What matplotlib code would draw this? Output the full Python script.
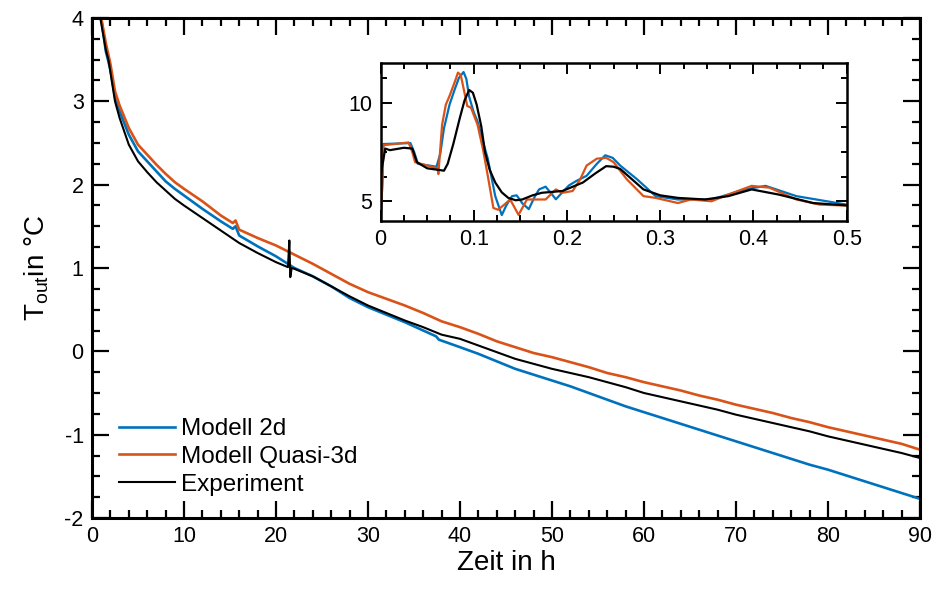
import matplotlib
matplotlib.use("Agg")
import matplotlib.pyplot as plt
from matplotlib.ticker import MultipleLocator

plt.rcParams['font.family'] = ['Liberation Sans', 'DejaVu Sans']
plt.rcParams['mathtext.fontset'] = 'custom'
plt.rcParams['mathtext.rm'] = 'Liberation Sans'
plt.rcParams['mathtext.it'] = 'Liberation Sans'
plt.rcParams['axes.unicode_minus'] = False

# ---------------- main data ----------------
t_2d = [1.0, 1.5, 2, 2.5, 3, 4, 5, 6, 7, 8, 9, 10, 12, 14, 15.3, 15.6, 16, 18, 20, 22, 24, 26, 28,
        30, 32, 34, 36, 37.4, 37.7, 40, 42, 44, 46, 48, 50, 52, 54, 56, 58, 60, 62, 64, 66, 68,
        70, 72, 74, 76, 78, 80, 82, 84, 86, 88, 90]
y_2d = [4.0, 3.6, 3.38, 3.05, 2.88, 2.60, 2.40, 2.28, 2.16, 2.04, 1.95, 1.87, 1.71, 1.56, 1.47, 1.50, 1.39,
        1.26, 1.14, 1.00, 0.90, 0.78, 0.64, 0.53, 0.44, 0.35, 0.25, 0.18, 0.14, 0.05, -0.03, -0.12,
        -0.21, -0.28, -0.35, -0.42, -0.50, -0.58, -0.66, -0.73, -0.80, -0.87, -0.94, -1.01, -1.08,
        -1.15, -1.22, -1.29, -1.36, -1.42, -1.49, -1.56, -1.63, -1.70, -1.77]

t_q3d = [1.0, 1.5, 2, 2.5, 3, 4, 5, 6, 7, 8, 9, 10, 12, 14, 15.3, 15.6, 16, 18, 20, 22, 24, 26, 28,
         30, 32, 34, 36, 38, 40, 42, 44, 46, 48, 50, 52, 54, 56, 58, 60, 62, 64, 66, 68, 70, 72, 74,
         76, 78, 80, 82, 84, 86, 88, 90]
y_q3d = [4.0, 3.7, 3.45, 3.12, 2.95, 2.68, 2.48, 2.36, 2.24, 2.13, 2.03, 1.95, 1.80, 1.63, 1.54, 1.57,
         1.46, 1.36, 1.27, 1.16, 1.05, 0.93, 0.81, 0.71, 0.63, 0.55, 0.46, 0.36, 0.29, 0.21, 0.12, 0.05,
         -0.02, -0.07, -0.13, -0.19, -0.26, -0.31, -0.37, -0.42, -0.47, -0.53, -0.58, -0.64, -0.69,
         -0.74, -0.80, -0.85, -0.91, -0.96, -1.01, -1.06, -1.11, -1.18]

t_exp = [0.9, 1.5, 1.8, 2, 2.5, 3, 4, 5, 6, 7, 8, 9, 10, 12, 14, 16, 18, 20, 21.3, 21.45, 21.55,
         21.7, 22, 24, 26, 28, 30, 32, 34, 36, 38, 40, 42, 44, 46, 48, 50, 52, 54, 56, 58, 60, 62,
         64, 66, 68, 70, 72, 74, 76, 78, 80, 82, 84, 86, 88, 90]
y_exp = [4.0, 3.62, 3.49, 3.35, 3.0, 2.80, 2.48, 2.28, 2.15, 2.03, 1.93, 1.83, 1.75, 1.60, 1.45, 1.30,
         1.18, 1.07, 1.01, 1.33, 0.89, 1.00, 0.99, 0.90, 0.78, 0.66, 0.55, 0.46, 0.37, 0.29, 0.20,
         0.15, 0.07, -0.01, -0.09, -0.15, -0.21, -0.26, -0.31, -0.37, -0.43, -0.50, -0.55, -0.60,
         -0.65, -0.70, -0.76, -0.81, -0.86, -0.91, -0.96, -1.02, -1.07, -1.12, -1.17, -1.22, -1.28]

# ---------------- inset data ----------------
ti_2d = [0.0, 0.002, 0.003, 0.032, 0.036, 0.040, 0.060, 0.064, 0.068, 0.074, 0.079, 0.084, 0.089,
         0.092, 0.095, 0.100, 0.104, 0.110, 0.115, 0.123, 0.130, 0.135, 0.141, 0.146, 0.152, 0.159,
         0.165, 0.170, 0.177, 0.183, 0.188, 0.195, 0.202, 0.210, 0.221, 0.232, 0.241, 0.249, 0.257,
         0.275, 0.295, 0.319, 0.355, 0.391, 0.413, 0.446, 0.5]
yi_2d = [4.0, 6.0, 7.9, 7.95, 7.5, 6.9, 6.75, 7.4, 8.7, 9.9, 10.6, 11.25, 11.55, 11.2, 10.3, 9.5, 9.05,
         8.0, 7.16, 5.26, 4.3, 4.8, 5.26, 5.3, 4.9, 4.6, 5.2, 5.6, 5.74, 5.4, 5.1, 5.45, 5.8, 6.03,
         6.29, 6.9, 7.33, 7.2, 6.81, 6.12, 5.26, 5.09, 5.09, 5.6, 5.78, 5.26, 4.83]

ti_q3d = [0.0, 0.002, 0.003, 0.030, 0.034, 0.037, 0.061, 0.062, 0.066, 0.070, 0.074, 0.080, 0.083,
          0.086, 0.090, 0.093, 0.097, 0.104, 0.110, 0.115, 0.121, 0.126, 0.132, 0.139, 0.148, 0.157,
          0.166, 0.177, 0.188, 0.195, 0.206, 0.214, 0.221, 0.232, 0.242, 0.250, 0.264, 0.282, 0.295,
          0.319, 0.333, 0.355, 0.373, 0.398, 0.417, 0.446, 0.471, 0.5]
yi_q3d = [4.0, 6.0, 7.84, 7.98, 7.5, 6.98, 6.67, 6.38, 8.88, 9.9, 10.34, 11.1, 11.52, 11.4, 10.5, 9.83,
          9.74, 8.88, 7.6, 6.29, 4.66, 4.57, 4.8, 5.09, 4.31, 5.09, 5.09, 5.09, 5.60, 5.43, 5.52, 6.1,
          6.81, 7.16, 7.2, 6.98, 6.12, 5.26, 5.17, 4.91, 5.09, 5.0, 5.34, 5.78, 5.69, 5.09, 4.83, 4.78]

ti_exp = [0.0, 0.005, 0.010, 0.025, 0.034, 0.039, 0.050, 0.068, 0.072, 0.078, 0.085, 0.090, 0.095,
          0.099, 0.103, 0.108, 0.112, 0.117, 0.123, 0.130, 0.137, 0.145, 0.152, 0.163, 0.173, 0.195,
          0.217, 0.230, 0.242, 0.250, 0.257, 0.270, 0.282, 0.300, 0.319, 0.348, 0.373, 0.398, 0.427,
          0.464, 0.5]
yi_exp = [6.29, 7.67, 7.59, 7.71, 7.67, 6.98, 6.67, 6.55, 6.9, 7.9, 9.22, 10.1, 10.64, 10.5, 9.91, 8.8,
          7.5, 6.6, 5.95, 5.45, 5.17, 5.05, 5.09, 5.3, 5.43, 5.52, 5.95, 6.4, 6.78, 6.75, 6.64, 6.1,
          5.6, 5.3, 5.17, 5.09, 5.26, 5.6, 5.34, 4.91, 4.79]

labels = ['Modell 2d', 'Modell Quasi-3d', 'Experiment']
c_blue = '#0072BD'
c_orange = '#D95319'
c_black = '#000000'

fig = plt.figure(figsize=(9.36, 5.89), dpi=100)
ax = fig.add_axes([0.0983, 0.1205, 0.8846, 0.849])

ax.plot(t_2d, y_2d, color=c_blue, lw=1.9, label=labels[0])
ax.plot(t_q3d, y_q3d, color=c_orange, lw=1.9, label=labels[1])
ax.plot(t_exp, y_exp, color=c_black, lw=1.5, label=labels[2])

ax.set_xlim(0, 90)
ax.set_ylim(-2, 4)
ax.xaxis.set_major_locator(MultipleLocator(10))
ax.xaxis.set_minor_locator(MultipleLocator(2))
ax.yaxis.set_major_locator(MultipleLocator(1))
ax.yaxis.set_minor_locator(MultipleLocator(0.25))
ax.tick_params(which='both', direction='in', top=True, right=True, width=1.6, colors='black')
ax.tick_params(which='major', length=12, labelsize=15.5, pad=6)
ax.tick_params(which='minor', length=6)
for s in ax.spines.values():
    s.set_linewidth(2.2)
ax.set_xlabel('Zeit in h', fontsize=20, labelpad=2)
ax.set_ylabel(r'T$_{\mathrm{out}}$in °C', fontsize=20, labelpad=10)

leg = ax.legend(loc='upper left', bbox_to_anchor=(0.033, 0.2), frameon=False, fontsize=17.5,
                handlelength=2.3, handletextpad=0.25, labelspacing=0.24, borderpad=0,
                borderaxespad=0)

# inset
axi = fig.add_axes([0.4066, 0.6248, 0.498, 0.268])
axi.plot(ti_2d, yi_2d, color=c_blue, lw=1.6)
axi.plot(ti_q3d, yi_q3d, color=c_orange, lw=1.6)
axi.plot(ti_exp, yi_exp, color=c_black, lw=1.6)
axi.set_xlim(0, 0.5)
axi.set_ylim(4, 12)
axi.xaxis.set_minor_locator(MultipleLocator(0.025))
axi.yaxis.set_minor_locator(MultipleLocator(1.25))
axi.set_xticks([0, 0.1, 0.2, 0.3, 0.4, 0.5])
axi.set_xticklabels(['0', '0.1', '0.2', '0.3', '0.4', '0.5'])
axi.set_yticks([5, 10])
axi.set_yticklabels(['5', '10'])
axi.tick_params(which='both', direction='in', top=True, right=True, width=1.4, colors='black')
axi.tick_params(which='major', length=8, labelsize=15.5, pad=6)
axi.tick_params(which='minor', length=4.5)
for s in axi.spines.values():
    s.set_linewidth(1.8)

fig.savefig('out.png', dpi=100)
